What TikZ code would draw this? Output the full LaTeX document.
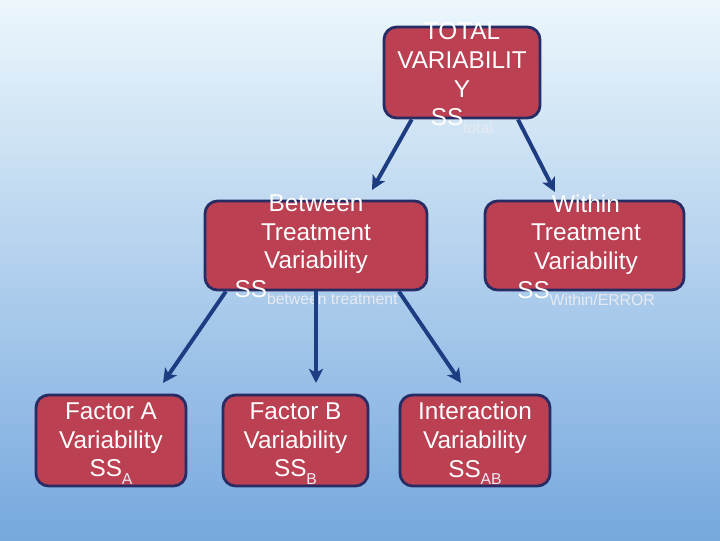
\documentclass[tikz,border=0pt]{standalone}
\usepackage{fontspec}
\setmainfont{Liberation Sans}
\usetikzlibrary{arrows.meta}
\definecolor{boxred}{RGB}{186,64,82}
\definecolor{boxedge}{RGB}{40,44,100}
\definecolor{arrowblue}{RGB}{30,60,130}
\definecolor{bgtop}{RGB}{236,247,252}
\definecolor{bgmid}{RGB}{180,212,238}
\definecolor{bgbot}{RGB}{118,168,222}
\definecolor{subgray}{RGB}{232,234,242}
\tikzset{box/.style={rectangle, rounded corners=9pt, fill=boxred, draw=boxedge, line width=2pt},
  boxtext/.style={text=white, align=center, font=\fontsize{17.3}{20.4}\selectfont, inner sep=0pt},
  branch/.style={draw=arrowblue, line width=2.8pt, -{Stealth[length=10pt, width=10pt, inset=2.5pt]}}}
\newcommand{\sslow}[1]{\raisebox{-0.3em}{\fontsize{11.2}{11}\selectfont\color{subgray}#1}}

\begin{document}
\begin{tikzpicture}[x=0.025cm, y=-0.025cm]
      \useasboundingbox (0, 0) rectangle (720, 540);
      \shade [top color=bgtop, middle color=bgmid, bottom color=bgbot] (0, 0) rectangle (720, 540);

      \node [box, minimum width=3.9cm, minimum height=2.275cm] (total) at (462, 72.5) {};
      \node [box, minimum width=5.55cm, minimum height=2.225cm] (between) at (316, 245.5) {};
      \node [box, minimum width=4.975cm, minimum height=2.225cm] (within) at (584.5, 245.5) {};
      \node [box, minimum width=3.75cm, minimum height=2.275cm] (factA) at (111, 440.5) {};
      \node [box, minimum width=3.625cm, minimum height=2.275cm] (factB) at (295.5, 440.5) {};
      \node [box, minimum width=3.75cm, minimum height=2.275cm] (inter) at (475, 440.5) {};

      \node [boxtext] at (462, 78) {TOTAL\\VARIABILIT\\Y\\SS\sslow{total}};
      \node [boxtext] at (316, 250) {Between\\Treatment\\Variability\\SS\sslow{between treatment}};
      \node [boxtext] at (586, 250) {Within\\Treatment\\Variability\\SS\sslow{Within/ERROR}};
      \node [boxtext] at (111, 443.5) {Factor A\\Variability\\SS\sslow{A}};
      \node [boxtext] at (295.5, 443.5) {Factor B\\Variability\\SS\sslow{B}};
      \node [boxtext] at (475, 443.5) {Interaction\\Variability\\SS\sslow{AB}};

      \coordinate (tipL) at (372, 190);
      \coordinate (tipR) at (555, 192);
      \coordinate (tipA) at (163, 383);
      \coordinate (tipB) at (316, 383);
      \coordinate (tipAB) at (461, 383);

      \draw [branch] (total.223) -- (tipL);
      \draw [branch] (total.320) -- (tipR);
      \draw [branch] (between.207) -- (tipA);
      \draw [branch] (between.south) -- (tipB);
      \draw [branch] (between.331) -- (tipAB);
    \end{tikzpicture}
\end{document}
